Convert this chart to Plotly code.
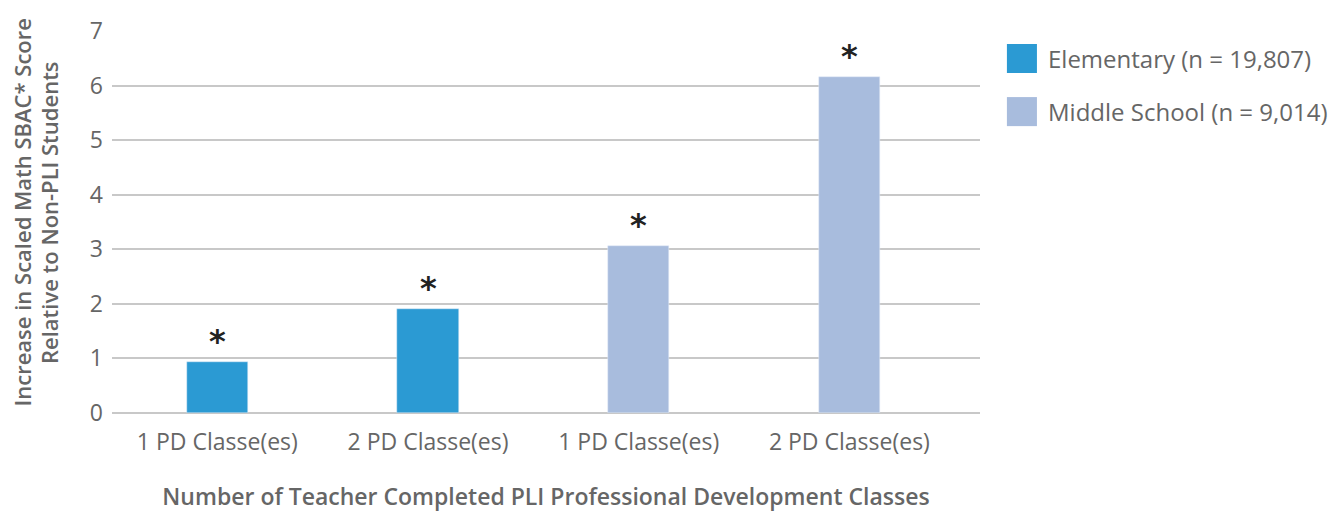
import plotly.graph_objects as go

# data
tick_labels = ["1 PD Classe(es)", "2 PD Classe(es)", "1 PD Classe(es)", "2 PD Classe(es)"]
elem_x = [0, 1]
elem_vals = [0.93, 1.90]
middle_x = [2, 3]
middle_vals = [3.06, 6.16]
series_names = ["Elementary (n = 19,807)", "Middle School (n = 9,014)"]
series_colors = ["#2b9ad3", "#a8bcdd"]
y_title_lines = ["Increase in Scaled Math SBAC* Score", "Relative to Non-PLI Students"]

GRAY = "#666666"
FONT = "Open Sans"

fig = go.Figure()
fig.add_trace(
    go.Bar(x=elem_x, y=elem_vals, name=series_names[0], marker_color=series_colors[0],
           width=0.29, showlegend=False)
)
fig.add_trace(
    go.Bar(x=middle_x, y=middle_vals, name=series_names[1], marker_color=series_colors[1],
           width=0.29, showlegend=False)
)

# significance stars
for x, v in zip(elem_x + middle_x, elem_vals + middle_vals):
    fig.add_annotation(
        x=x, y=v, text="<b>*</b>", showarrow=False, yanchor="bottom", yshift=0,
        font=dict(family="DejaVu Sans", size=32, color="#222222"),
    )

# legend drawn by hand so the swatches can be large
for i, (name, color) in enumerate(zip(series_names, series_colors)):
    top = 0.966 - i * 0.139
    fig.add_shape(
        type="rect", xref="paper", yref="paper",
        x0=1.031, x1=1.0656, y0=top - 0.076, y1=top,
        fillcolor=color, line_width=0,
    )
    fig.add_annotation(
        xref="paper", yref="paper", x=1.076, y=top - 0.038,
        xanchor="left", yanchor="middle", text=name, showarrow=False,
        font=dict(family=FONT, size=24, color=GRAY),
    )

# y axis title, two lines set a little tighter than plotly's line height
for i, line in enumerate(y_title_lines):
    fig.add_annotation(
        xref="paper", yref="paper", x=-0.1037 + i * 0.0318, y=0.525,
        xanchor="center", yanchor="middle", textangle=-90, text=line,
        showarrow=False, borderpad=0,
        font=dict(family=FONT, size=22, color=GRAY, weight=600),
    )

# page body adds an 8px offset, so the figure is slightly smaller
fig.update_layout(
    width=1336,
    height=506,
    margin=dict(l=104, r=364, t=23, b=101),
    plot_bgcolor="white",
    paper_bgcolor="white",
    font=dict(family=FONT, size=24, color=GRAY),
    bargap=0,
)
fig.update_xaxes(
    tickvals=[0, 1, 2, 3],
    ticktext=tick_labels,
    range=[-0.5, 3.62],
    showgrid=False,
    showline=False,
    ticks="",
    tickfont=dict(size=23, color=GRAY),
    ticklabelstandoff=13,
    automargin=False,
    title=dict(
        text="Number of Teacher Completed PLI Professional Development Classes",
        font=dict(size=23, color=GRAY, weight=600),
        standoff=32,
    ),
)
fig.update_yaxes(
    range=[0, 7],
    dtick=1,
    showgrid=True,
    gridcolor="#c8c8c8",
    gridwidth=1.5,
    zeroline=True,
    zerolinecolor="#c8c8c8",
    zerolinewidth=1.5,
    ticks="",
    tickfont=dict(size=23, color=GRAY),
    ticklabelstandoff=8,
    automargin=False,
)

fig.write_html("out.html")
